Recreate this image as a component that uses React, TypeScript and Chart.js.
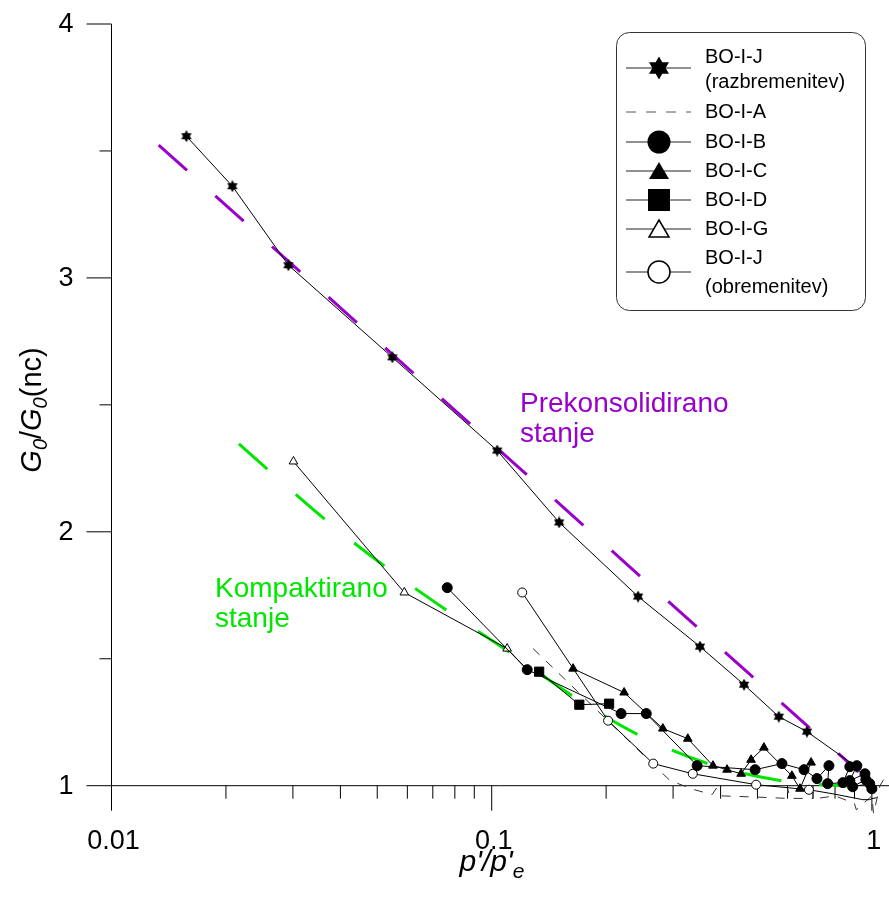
import React, { useEffect, useRef } from 'react';
import { Chart, registerables } from 'chart.js';
Chart.register(...registerables);

// ---------- data ----------
const razX = [0.01574, 0.0208, 0.0292, 0.0548, 0.1034, 0.1505, 0.2427, 0.353, 0.461, 0.569, 0.675, 0.91, 1.0];
const razY = [3.558, 3.361, 3.05, 2.687, 2.32, 2.037, 1.745, 1.548, 1.398, 1.272, 1.213, 1.075, 0.99];

const aX = [0.1285, 0.2945, 0.34, 0.38, 0.39, 0.40, 0.50, 0.60, 0.60, 0.61, 0.70, 0.70, 0.72, 0.80, 0.90, 0.91, 1.0, 1.01, 1.05, 1.1];
const aY = [1.54, 1.02, 0.985, 0.965, 0.99, 0.96, 0.955, 0.95, 0.99, 0.95, 0.95, 0.975, 0.95, 0.96, 0.93, 0.905, 0.96, 0.89, 1.0, 1.05];

const bX = [0.0764, 0.124, 0.219, 0.255, 0.347, 0.493, 0.58, 0.663, 0.717, 0.771, 0.765, 0.839, 0.875, 0.913, 0.875, 0.959, 0.964, 0.89, 0.987, 1.0];
const bY = [1.78, 1.457, 1.284, 1.284, 1.079, 1.063, 1.087, 1.063, 1.028, 1.079, 1.008, 1.012, 1.075, 1.079, 1.02, 1.047, 1.024, 0.996, 1.008, 0.988];

const cX = [0.1637, 0.223, 0.282, 0.328, 0.382, 0.416, 0.453, 0.481, 0.52, 0.616, 0.647, 0.692];
const cY = [1.461, 1.367, 1.225, 1.185, 1.079, 1.063, 1.047, 1.102, 1.15, 1.039, 0.988, 1.091];

const dX = [0.1333, 0.17, 0.2036];
const dY = [1.449, 1.319, 1.323];

const gX = [0.0301, 0.0589, 0.1098, 0.124];
const gY = [2.277, 1.761, 1.54, 1.457];

const obrX = [0.1203, 0.2024, 0.266, 0.338, 0.496, 0.683, 0.79, 0.947, 0.988, 1.0, 1.03];
const obrY = [1.761, 1.256, 1.087, 1.047, 1.004, 0.984, 0.968, 0.945, 0.945, 0.949, 0.953];

const prekX = [0.01331, 0.924];
const prekY = [3.523, 1.054];

const kompX = [0.02163, 0.03662, 0.05266, 0.0766, 0.1122, 0.1633, 0.2434, 0.374, 0.582, 0.927];
const kompY = [2.346, 2.046, 1.861, 1.688, 1.523, 1.353, 1.2, 1.085, 1.019, 0.995];

const yMajorTicks = [1, 2, 3, 4];
const yMajorLabels = ['1', '2', '3', '4'];
const yMinorTicks = [1.5, 2.5, 3.5];
const xMajorTicks = [0.01, 0.1, 1];
const xMajorLabels = ['0.01', '0.1', '1'];
const xMinorTicks = [0.02, 0.03, 0.04, 0.05, 0.06, 0.07, 0.08, 0.09, 0.2, 0.3, 0.4, 0.5, 0.6, 0.7, 0.8, 0.9];

const legendLabels = [
  ['BO-I-J', '(razbremenitev)'],
  ['BO-I-A'],
  ['BO-I-B'],
  ['BO-I-C'],
  ['BO-I-D'],
  ['BO-I-G'],
  ['BO-I-J', '(obremenitev)'],
];

const PURPLE = '#9900cc';
const GREEN = '#00e600';
const FONT = '"Liberation Sans", Arial, sans-serif';

const pts = (xs: number[], ys: number[]) => xs.map((x, i) => ({ x, y: ys[i] }));

function hexPath(ctx: CanvasRenderingContext2D, cx: number, cy: number, r: number) {
  ctx.beginPath();
  for (let k = 0; k < 3; k++) {
    const a = -Math.PI / 2 + (k * 2 * Math.PI) / 3;
    const px = cx + r * Math.cos(a), py = cy + r * Math.sin(a);
    if (k === 0) ctx.moveTo(px, py); else ctx.lineTo(px, py);
  }
  ctx.closePath();
  for (let k = 0; k < 3; k++) {
    const a = Math.PI / 2 + (k * 2 * Math.PI) / 3;
    const px = cx + r * Math.cos(a), py = cy + r * Math.sin(a);
    if (k === 0) ctx.moveTo(px, py); else ctx.lineTo(px, py);
  }
  ctx.closePath();
}

function makeStar(size: number) {
  const c = document.createElement('canvas');
  c.width = size; c.height = size;
  const g = c.getContext('2d')!;
  g.fillStyle = '#000';
  hexPath(g, size / 2, size / 2, size / 2);
  g.fill('nonzero');
  return c;
}

function drawRich(ctx: CanvasRenderingContext2D, parts: { t: string; f: string; dy: number }[], x: number, y: number) {
  let w = 0;
  parts.forEach(p => { ctx.font = p.f; w += ctx.measureText(p.t).width; });
  let cx = x - w / 2;
  parts.forEach(p => {
    ctx.font = p.f;
    ctx.fillText(p.t, cx, y + p.dy);
    cx += ctx.measureText(p.t).width;
  });
}

const decor = {
  id: 'decor',
  beforeDatasetsDraw(chart: any) {
    const { ctx, chartArea, scales } = chart;
    const { left, bottom } = chartArea;
    const xs = scales.x, ys = scales.y;
    const top = ys.getPixelForValue(4);
    ctx.save();
    ctx.strokeStyle = '#000';
    ctx.lineWidth = 1;
    const ln = (x1: number, y1: number, x2: number, y2: number) => {
      ctx.beginPath(); ctx.moveTo(x1, y1); ctx.lineTo(x2, y2); ctx.stroke();
    };
    ln(left, top, left, bottom);
    ln(left, bottom, chart.width, bottom);
    yMajorTicks.forEach(v => { const p = ys.getPixelForValue(v); ln(left - 25, p, left, p); });
    yMinorTicks.forEach(v => { const p = ys.getPixelForValue(v); ln(left - 12, p, left, p); });
    xMajorTicks.forEach(v => { const p = xs.getPixelForValue(v); ln(p, bottom, p, bottom + 25); });
    xMinorTicks.forEach(v => { const p = xs.getPixelForValue(v); ln(p, bottom, p, bottom + 13); });

    ctx.fillStyle = '#000';
    ctx.font = `27px ${FONT}`;
    ctx.textAlign = 'right';
    ctx.textBaseline = 'middle';
    yMajorTicks.forEach((v, i) => ctx.fillText(yMajorLabels[i], left - 38, ys.getPixelForValue(v) + 1));
    ctx.textAlign = 'center';
    ctx.textBaseline = 'alphabetic';
    xMajorTicks.forEach((v, i) => ctx.fillText(xMajorLabels[i], xs.getPixelForValue(v) + 2, bottom + 63));

    // axis titles
    ctx.textAlign = 'left';
    drawRich(ctx, [
      { t: "p'/p'", f: `italic 30px ${FONT}`, dy: 0 },
      { t: 'e', f: `italic 21px ${FONT}`, dy: 7 },
    ], 492, 871);
    ctx.save();
    ctx.translate(41, 410);
    ctx.rotate(-Math.PI / 2);
    drawRich(ctx, [
      { t: 'G', f: `italic 29px ${FONT}`, dy: 0 },
      { t: '0', f: `italic 20px ${FONT}`, dy: 6 },
      { t: '/', f: `29px ${FONT}`, dy: 0 },
      { t: 'G', f: `italic 29px ${FONT}`, dy: 0 },
      { t: '0', f: `italic 20px ${FONT}`, dy: 6 },
      { t: '(nc)', f: `29px ${FONT}`, dy: 0 },
    ], 0, 0);
    ctx.restore();

    // annotations
    ctx.font = `28px ${FONT}`;
    ctx.textAlign = 'left';
    ctx.fillStyle = PURPLE;
    ctx.fillText('Prekonsolidirano', 520, 412);
    ctx.fillText('stanje', 520, 442);
    ctx.fillStyle = GREEN;
    ctx.fillText('Kompaktirano', 215, 597);
    ctx.fillText('stanje', 215, 627);
    ctx.restore();
  },
  afterDatasetsDraw(chart: any) {
    const { ctx } = chart;
    ctx.save();
    // legend box
    const bx = 616.5, by = 32.5, bw = 249, bh = 278, r = 13;
    ctx.beginPath();
    ctx.moveTo(bx + r, by);
    ctx.lineTo(bx + bw - r, by);
    ctx.arcTo(bx + bw, by, bx + bw, by + r, r);
    ctx.lineTo(bx + bw, by + bh - r);
    ctx.arcTo(bx + bw, by + bh, bx + bw - r, by + bh, r);
    ctx.lineTo(bx + r, by + bh);
    ctx.arcTo(bx, by + bh, bx, by + bh - r, r);
    ctx.lineTo(bx, by + r);
    ctx.arcTo(bx, by, bx + r, by, r);
    ctx.closePath();
    ctx.fillStyle = '#fff';
    ctx.fill();
    ctx.strokeStyle = '#333';
    ctx.lineWidth = 1;
    ctx.stroke();

    const symY = [68, 112, 142, 171, 200, 229, 272];
    const textY = [[57, 82], [112], [142], [171], [200], [229], [258, 287]];
    const sx = 659;
    ctx.font = `20px ${FONT}`;
    ctx.textAlign = 'left';
    ctx.textBaseline = 'middle';
    legendLabels.forEach((lines, i) => {
      const y = symY[i];
      ctx.strokeStyle = i === 1 ? '#555' : '#222';
      ctx.lineWidth = 1;
      ctx.setLineDash(i === 1 ? [10, 10] : []);
      ctx.beginPath(); ctx.moveTo(626, y); ctx.lineTo(691, y); ctx.stroke();
      ctx.setLineDash([]);
      ctx.fillStyle = '#000';
      ctx.strokeStyle = '#000';
      ctx.lineWidth = 1.5;
      if (i === 0) { hexPath(ctx, sx, y, 11.5); ctx.fill(); }
      if (i === 2) { ctx.beginPath(); ctx.arc(sx, y, 11.5, 0, Math.PI * 2); ctx.fill(); }
      if (i === 3 || i === 5) {
        ctx.beginPath();
        ctx.moveTo(sx, y - 9); ctx.lineTo(sx + 10, y + 8); ctx.lineTo(sx - 10, y + 8); ctx.closePath();
        if (i === 3) ctx.fill(); else { ctx.fillStyle = '#fff'; ctx.fill(); ctx.stroke(); }
      }
      if (i === 4) ctx.fillRect(sx - 11, y - 11, 22, 22);
      if (i === 6) { ctx.beginPath(); ctx.arc(sx, y, 11, 0, Math.PI * 2); ctx.fillStyle = '#fff'; ctx.fill(); ctx.stroke(); }
      ctx.fillStyle = '#000';
      lines.forEach((t, k) => ctx.fillText(t, 705, textY[i][k]));
    });
    ctx.restore();
  },
};

export default function App() {
  const ref = useRef<HTMLCanvasElement>(null);
  useEffect(() => {
    if (!ref.current) return;
    const star = makeStar(12);
    const common = { showLine: true, clip: false as any, borderColor: '#000', borderWidth: 1, tension: 0 };
    const chart = new Chart(ref.current, {
      type: 'scatter',
      data: {
        datasets: [
          { ...common, label: 'BO-I-J (razbremenitev)', data: pts(razX, razY), pointStyle: star as any, pointRadius: 6 },
          { ...common, label: 'BO-I-B', data: pts(bX, bY), pointStyle: 'circle', pointRadius: 5, pointBackgroundColor: '#000', pointBorderColor: '#000' },
          { ...common, label: 'BO-I-C', data: pts(cX, cY), pointStyle: 'triangle', pointRadius: 5, pointBackgroundColor: '#000', pointBorderColor: '#000' },
          { ...common, label: 'BO-I-D', data: pts(dX, dY), pointStyle: 'rect', pointRadius: 6.5, pointBackgroundColor: '#000', pointBorderColor: '#000' },
          { ...common, label: 'BO-I-G', data: pts(gX, gY), pointStyle: 'triangle', pointRadius: [5, 5, 5, 0], pointBackgroundColor: '#fff', pointBorderColor: '#000', pointBorderWidth: 1 },
          { ...common, label: 'BO-I-J (obremenitev)', data: pts(obrX, obrY), pointStyle: 'circle', pointRadius: 4.5, pointBackgroundColor: '#fff', pointBorderColor: '#000', pointBorderWidth: 1 },
          { ...common, label: 'BO-I-A', data: pts(aX, aY), pointRadius: 0, borderColor: '#333', borderDash: [9, 9] },
          { ...common, label: 'Prekonsolidirano', data: pts(prekX, prekY), pointRadius: 0, borderColor: PURPLE, borderWidth: 3, borderDash: [38, 38] },
          { ...common, label: 'Kompaktirano', data: pts(kompX, kompY), pointRadius: 0, borderColor: GREEN, borderWidth: 3, borderDash: [38, 38], cubicInterpolationMode: 'monotone' as any },
        ],
      },
      options: {
        responsive: false,
        animation: false,
        layout: { padding: { left: 111.5, top: 24, right: 1, bottom: 114.3 } },
        scales: {
          x: { type: 'logarithmic', min: 0.01, max: 1.06, display: false },
          y: { type: 'linear', min: 1, max: 4, display: false },
        },
        plugins: { legend: { display: false }, tooltip: { enabled: false } },
        events: [],
      },
      plugins: [decor],
    });
    return () => chart.destroy();
  }, []);
  return (
    <div style={{ position: 'absolute', left: 0, top: 0, width: 889, height: 900, background: '#fff' }}>
      <canvas ref={ref} width={889} height={900} style={{ display: 'block' }} />
    </div>
  );
}
